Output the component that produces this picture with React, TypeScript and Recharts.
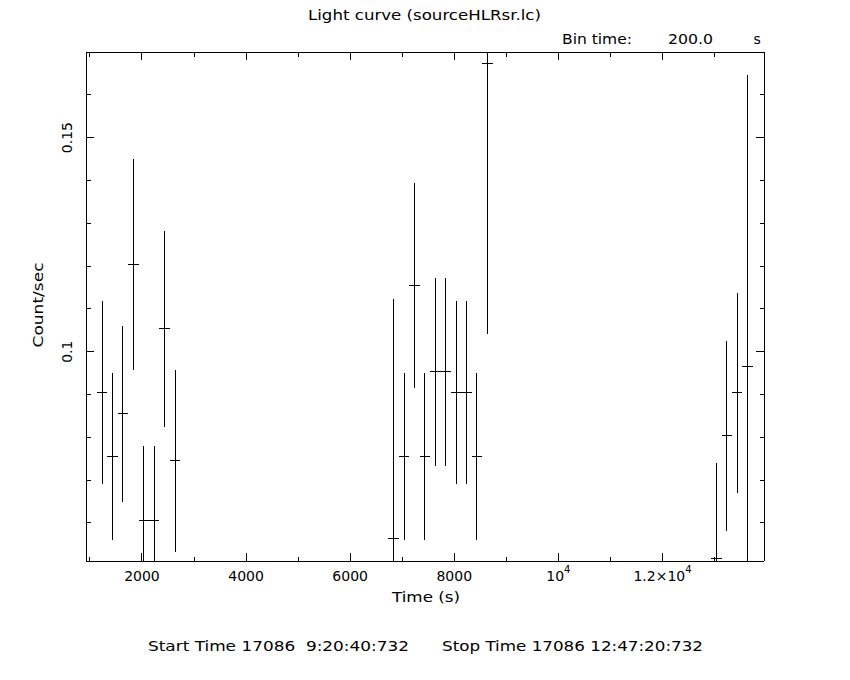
import React from 'react';
import { ScatterChart, Scatter, XAxis, YAxis, ErrorBar } from 'recharts';

// bin centres (s), rates (count/s) and 1-sigma errors, 200 s bins
const binTimes = [
  1235, 1435, 1635, 1835, 2035, 2235, 2435, 2635,
  6835, 7035, 7235, 7435, 7635, 7835, 8035, 8235, 8435, 8635,
  13035, 13235, 13435, 13635,
];
const rates = [
  0.0904, 0.0755, 0.0855, 0.1203, 0.0606, 0.0606, 0.1054, 0.0745,
  0.0563, 0.0755, 0.1154, 0.0755, 0.0953, 0.0953, 0.0904, 0.0904, 0.0755, 0.1673,
  0.0518, 0.0803, 0.0904, 0.0966,
];
const rateErrors = [
  0.0214, 0.0194, 0.0206, 0.0246, 0.0173, 0.0173, 0.0229, 0.0213,
  0.056, 0.0194, 0.0239, 0.0194, 0.022, 0.022, 0.0214, 0.0214, 0.0194, 0.0632,
  0.0222, 0.0223, 0.0234, 0.068,
];
const halfBin = 100;

const xTicks = [1000, 2000, 3000, 4000, 5000, 6000, 7000, 8000, 9000, 10000, 11000, 12000, 13000];
const xMajor = [2000, 4000, 6000, 8000, 10000, 12000];
const yTicks = [0.06, 0.07, 0.08, 0.09, 0.1, 0.11, 0.12, 0.13, 0.14, 0.15, 0.16, 0.17];
const yMajor = [0.1, 0.15];

const X_DOMAIN: [number, number] = [925, 13950];
const Y_DOMAIN: [number, number] = [0.0511, 0.17];

const points = binTimes.map((t, i) => ({
  time: t,
  rate: rates[i],
  rateErr: rateErrors[i],
  timeErr: halfBin,
}));

const FONT = '"DejaVu Sans", sans-serif';
const MAJOR_LEN = 8;
const MINOR_LEN = 4.5;

// chart layout
const W = 850;
const H = 680;
const MARGIN = { top: 32, right: 66, bottom: 79, left: 26 };
const LEFT_W = 60;
const RIGHT_W = 20;
const TOP_H = 20;
const BOTTOM_H = 40;
const plotX = MARGIN.left + LEFT_W;
const plotY = MARGIN.top + TOP_H;
const plotW = W - plotX - MARGIN.right - RIGHT_W;
const plotH = H - plotY - MARGIN.bottom - BOTTOM_H;

const isMajor = (v: number, majors: number[]) => majors.some((m) => Math.abs(m - v) < 1e-9);

function xLabel(v: number) {
  if (v === 10000) {
    return (
      <>
        10<tspan dy={-8} fontSize={10}>4</tspan>
      </>
    );
  }
  if (v === 12000) {
    return (
      <>
        1.2×10<tspan dy={-8} fontSize={10}>4</tspan>
      </>
    );
  }
  return String(v);
}

function BottomTick(props: any) {
  const { x, y, payload } = props;
  const major = isMajor(payload.value, xMajor);
  return (
    <g>
      <line x1={x} x2={x} y1={y} y2={y - (major ? MAJOR_LEN : MINOR_LEN)} stroke="#000" shapeRendering="crispEdges" />
      {major && (
        <text x={x} y={y + 20} textAnchor="middle" fontFamily={FONT} fontSize={14} fill="#000">
          {xLabel(payload.value)}
        </text>
      )}
    </g>
  );
}

function TopTick(props: any) {
  const { x, y, payload } = props;
  const major = isMajor(payload.value, xMajor);
  return (
    <line x1={x} x2={x} y1={y} y2={y + (major ? MAJOR_LEN : MINOR_LEN)} stroke="#000" shapeRendering="crispEdges" />
  );
}

function LeftTick(props: any) {
  const { x, y, payload } = props;
  const major = isMajor(payload.value, yMajor);
  const lx = x - 13.5;
  return (
    <g>
      <line x1={x} x2={x + (major ? MAJOR_LEN : MINOR_LEN)} y1={y} y2={y} stroke="#000" shapeRendering="crispEdges" />
      {major && (
        <text
          x={lx}
          y={y}
          transform={`rotate(-90, ${lx}, ${y})`}
          textAnchor="middle"
          fontFamily={FONT}
          fontSize={14}
          fill="#000"
        >
          {String(payload.value)}
        </text>
      )}
    </g>
  );
}

function RightTick(props: any) {
  const { x, y, payload } = props;
  const major = isMajor(payload.value, yMajor);
  return (
    <line x1={x} x2={x - (major ? MAJOR_LEN : MINOR_LEN)} y1={y} y2={y} stroke="#000" shapeRendering="crispEdges" />
  );
}

const axisLine = { stroke: '#000', strokeWidth: 1, shapeRendering: 'crispEdges' as const };

export default function App() {
  return (
    <div style={{ position: 'absolute', left: 0, top: 0, width: W, height: H, background: '#fff' }}>
      <style>{`
        .recharts-errorBars, .recharts-errorBar { clip-path: url(#plotClip); }
        .recharts-errorBar line { shape-rendering: crispEdges; }
      `}</style>
      <svg width={0} height={0} style={{ position: 'absolute' }}>
        <defs>
          <clipPath id="plotClip" clipPathUnits="userSpaceOnUse">
            <rect x={plotX} y={plotY} width={plotW} height={plotH} />
          </clipPath>
        </defs>
      </svg>
      <ScatterChart width={W} height={H} margin={MARGIN}>
        <XAxis
          xAxisId="b"
          orientation="bottom"
          type="number"
          dataKey="time"
          domain={X_DOMAIN}
          allowDataOverflow
          ticks={xTicks}
          interval={0}
          tick={<BottomTick />}
          tickLine={false}
          tickSize={0}
          tickMargin={0}
          axisLine={axisLine}
          height={BOTTOM_H}
        />
        <XAxis
          xAxisId="t"
          orientation="top"
          type="number"
          dataKey="time"
          domain={X_DOMAIN}
          allowDataOverflow
          ticks={xTicks}
          interval={0}
          tick={<TopTick />}
          tickLine={false}
          tickSize={0}
          tickMargin={0}
          axisLine={axisLine}
          height={TOP_H}
        />
        <YAxis
          yAxisId="l"
          orientation="left"
          type="number"
          dataKey="rate"
          domain={Y_DOMAIN}
          allowDataOverflow
          ticks={yTicks}
          interval={0}
          tick={<LeftTick />}
          tickLine={false}
          tickSize={0}
          tickMargin={0}
          axisLine={axisLine}
          width={LEFT_W}
        />
        <YAxis
          yAxisId="r"
          orientation="right"
          type="number"
          dataKey="rate"
          domain={Y_DOMAIN}
          allowDataOverflow
          ticks={yTicks}
          interval={0}
          tick={<RightTick />}
          tickLine={false}
          tickSize={0}
          tickMargin={0}
          axisLine={axisLine}
          width={RIGHT_W}
        />
        <Scatter
          data={points}
          xAxisId="b"
          yAxisId="l"
          dataKey="rate"
          isAnimationActive={false}
          shape={() => <g />}
        >
          <ErrorBar dataKey="rateErr" direction="y" width={0} stroke="#000" strokeWidth={1} isAnimationActive={false} />
          <ErrorBar dataKey="timeErr" direction="x" width={0} stroke="#000" strokeWidth={1} isAnimationActive={false} />
        </Scatter>
        {/* keep the mirror axes bound to a domain */}
        <Scatter data={points} xAxisId="t" yAxisId="r" dataKey="rate" isAnimationActive={false} shape={() => <g />} />
      </ScatterChart>

      <svg
        width={W}
        height={H}
        style={{ position: 'absolute', left: 0, top: 0, pointerEvents: 'none' }}
        fontFamily={FONT}
        fill="#000"
      >
        <text x={424.5} y={20} fontSize={14} textAnchor="middle" textLength={233} lengthAdjust="spacingAndGlyphs">
          Light curve (sourceHLRsr.lc)
        </text>
        <text x={562} y={44} fontSize={14} textLength={70} lengthAdjust="spacingAndGlyphs">
          Bin time:
        </text>
        <text x={668} y={44} fontSize={14} textLength={45} lengthAdjust="spacingAndGlyphs">
          200.0
        </text>
        <text x={753.5} y={44} fontSize={14}>
          s
        </text>
        <text
          x={43}
          y={305}
          fontSize={14}
          textAnchor="middle"
          transform="rotate(-90, 43, 305)"
          textLength={85}
          lengthAdjust="spacingAndGlyphs"
        >
          Count/sec
        </text>
        <text x={426} y={602} fontSize={14} textAnchor="middle" textLength={68} lengthAdjust="spacingAndGlyphs">
          Time (s)
        </text>
        <text x={148} y={651} fontSize={14} textLength={261} lengthAdjust="spacingAndGlyphs" style={{ whiteSpace: 'pre' }}>
          {'Start Time 17086  9:20:40:732'}
        </text>
        <text x={442} y={651} fontSize={14} textLength={261} lengthAdjust="spacingAndGlyphs" style={{ whiteSpace: 'pre' }}>
          {'Stop Time 17086 12:47:20:732'}
        </text>
      </svg>
    </div>
  );
}
